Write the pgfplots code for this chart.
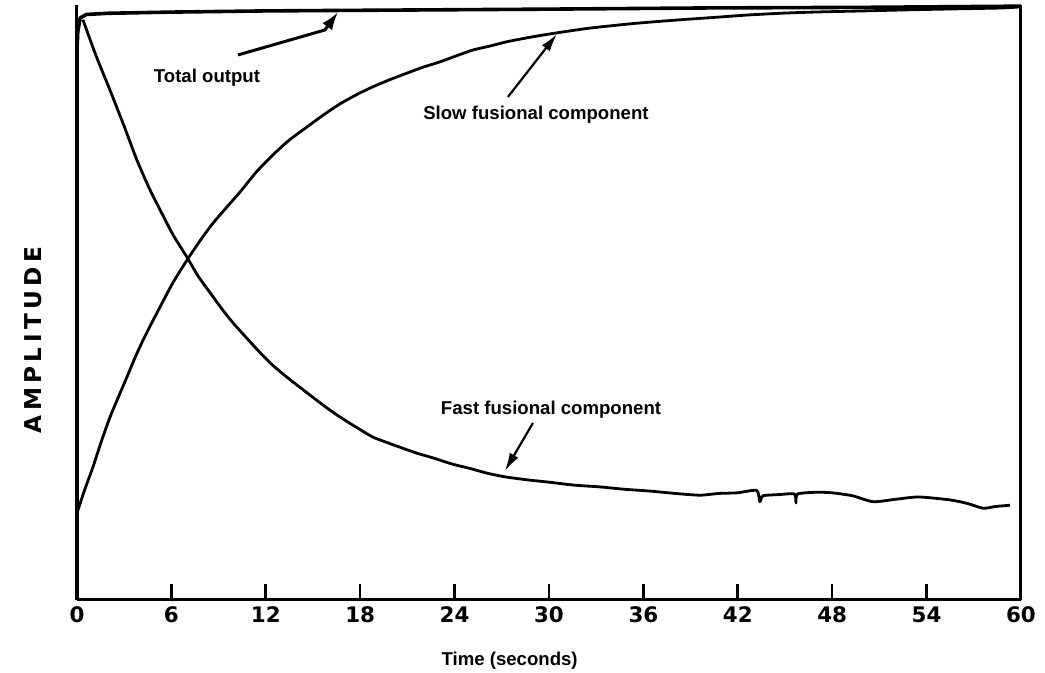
\documentclass[border=0pt]{standalone}
\usepackage{fontspec}
\setmainfont{Liberation Sans}
\newfontfamily\tickfont{DejaVu Sans}
\newfontfamily\ampfont[LetterSpace=19]{DejaVu Sans}
\usepackage{pgfplots}
\pgfplotsset{compat=1.18}
\usetikzlibrary{arrows.meta}
\begin{document}
\begin{tikzpicture}
\begin{axis}[
 scale only axis, width=472pt, height=297.5pt,
 xmin=0, xmax=60, ymin=0, ymax=100.5,
 axis x line*=bottom, axis y line*=left,
 axis line style={line width=1.5pt, -},
 xtick={0,6,...,60}, ytick=\empty,
 tick align=inside, major tick length=8pt,
 tick style={line width=1.3pt, black},
 /pgf/number format/assume math mode=true,
 xticklabel style={font=\tickfont\bfseries\fontsize{10.7}{12}\selectfont},
 clip=false,
]
% Total output
\addplot[black, line width=1.8pt, line join=round] coordinates {
(0,0) (0,93) (0.05,96) (0.2,98.3) (0.6,98.9) (2,99.1) (6,99.3) (12,99.5) (18,99.6) (30,99.8) (40,100) (50,100.1) (60,100.3)
};
% Fast fusional component
\addplot[black, line width=1.4pt, line join=round, smooth, tension=0.4] coordinates {
(0.38,98) (1.2,92.0) (2.1,86.1) (3.0,80.0) (3.81,74.3) (4.6,69.5) (5.28,65.9) (6.1,61.7) (6.99,57.9) (7.7,54.7) (8.46,51.9) (9.2,49.2) (9.92,46.8) (10.8,44.2) (11.63,41.8) (12.46,39.6) (13.5,37.3) (14.62,35.0) (15.7,32.8) (16.72,30.9) (17.8,29.1) (18.82,27.5) (19.7,26.6) (20.53,25.8) (21.6,24.8) (22.63,24.0) (23.8,23.0) (25.0,22.2) (26.1,21.4) (27.21,20.8) (28.6,20.3) (30.0,19.9) (31.6,19.4) (33.25,19.1) (34.8,18.7) (36.4,18.4) (38.0,18.0) (39.6,17.7) (40.8,18.0) (41.96,18.1) (43.2,18.5) (43.4,16.6) (43.6,17.6) (44.6,17.8) (45.6,17.9) (45.7,16.4) (45.8,17.9) (47.0,18.2) (48.0,18.1) (49.3,17.6) (50.6,16.6) (52.0,17.0) (53.5,17.4) (55.5,16.9) (56.6,16.3) (57.6,15.5) (58.4,15.8) (59.3,16.0)
};
% Slow fusional component
\addplot[black, line width=1.4pt, line join=round, smooth, tension=0.4] coordinates {
(0,14.7) (0.5,18.7) (1.02,22.5) (1.55,26.8) (2.10,30.9) (2.65,34.4) (3.18,37.7) (3.7,41.0) (4.20,43.9) (4.75,46.8) (5.28,49.5) (6.1,53.6) (6.99,57.4) (7.8,60.6) (8.6,63.5) (9.5,66.3) (10.36,68.9) (11.4,72.3) (12.46,75.2) (13.5,77.7) (14.62,79.9) (15.7,82.0) (16.72,83.8) (17.8,85.4) (18.82,86.7) (19.9,87.9) (20.98,89.0) (22.0,90.0) (23.08,90.9) (24.1,91.9) (25.17,92.9) (26.3,93.6) (27.34,94.3) (28.9,95.1) (30.52,95.8) (32.61,96.6) (35.5,97.4) (38.33,98.0) (40.5,98.4) (42.59,98.8) (44.7,99.1) (46.79,99.3) (50.0,99.5) (53.15,99.7) (56.0,99.85) (58.87,100.0) (60,100.2)
};
% right frame line
\draw[line width=1.5pt] (rel axis cs:1,0) -- (rel axis cs:1,1);
% annotations
\draw[line width=1.5pt, -{Latex[length=9pt,width=6pt]}] (axis cs:10.23,92.06) -- (axis cs:15.76,96.28) -- (axis cs:16.59,99.3);
\draw[line width=1.1pt, -{Latex[length=9pt,width=5pt]}] (axis cs:27.39,84.97) -- (axis cs:30.51,95.6);
\draw[line width=1.1pt, -{Latex[length=9pt,width=5pt]}] (axis cs:28.98,29.9) -- (axis cs:27.2,21.8);
\node[font=\bfseries\fontsize{9.3}{11}\selectfont] at (axis cs:8.26,88.2) {Total output};
\node[font=\bfseries\fontsize{9.3}{11}\selectfont] at (axis cs:29.17,81.9) {Slow fusional component};
\node[font=\bfseries\fontsize{9.3}{11}\selectfont] at (axis cs:30.13,32.1) {Fast fusional component};
\node[font=\bfseries\fontsize{9.3}{11}\selectfont] at ([yshift=-30.5pt]axis cs:27.5,0) {Time (seconds)};
\node[font=\ampfont\bfseries\fontsize{11.6}{13}\selectfont, rotate=90] at ([xshift=-21.75pt]axis cs:0,43.9) {AMPLITUDE};
\end{axis}
\pgfresetboundingbox
\path[use as bounding box] (-38.5pt,-36.5pt) rectangle (484pt,300pt);
\end{tikzpicture}
\end{document}
